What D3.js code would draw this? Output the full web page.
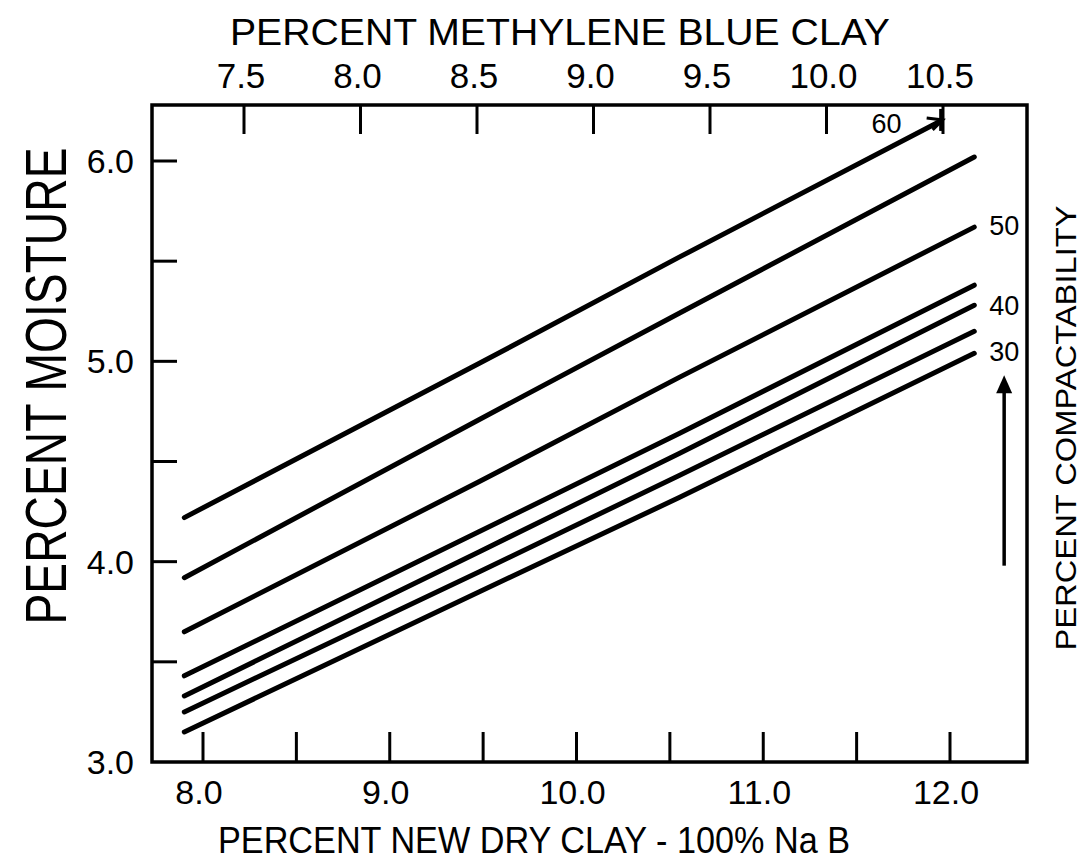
<!DOCTYPE html>
<html>
<head>
  <title>Percent Moisture vs Clay</title>
  <script src="https://d3js.org/d3.v7.min.js"></script>
  <style>
    body { margin: 0; background: #fff; }
    svg { font-family: "Liberation Sans", Arial, sans-serif; }
    .frame { fill: none; stroke: #000; stroke-width: 3.5; }
    .tick-line { stroke: #000; stroke-width: 3; }
    .curve { fill: none; stroke: #000; stroke-width: 5; stroke-linecap: round; stroke-linejoin: round; }
  </style>
</head>
<body>
  <div id="chart"></div>
  <script>
    // compactability levels, top to bottom
    const seriesNames = ["60", "55", "50", "45", "40", "35", "30"];
    // x = percent new dry clay, y = percent moisture
    const clayX = [7.9, 9.48, 10.55, 12.13];
    const line60 = [4.22, 4.99, 5.52, 6.2];
    const line55 = [3.92, 4.71, 5.24, 6.02];
    const line50 = [3.65, 4.40, 4.92, 5.67];
    const line45 = [3.43, 4.15, 4.64, 5.38];
    const line40 = [3.33, 4.05, 4.54, 5.28];
    const line35 = [3.25, 3.95, 4.43, 5.15];
    const line30 = [3.15, 3.85, 4.32, 5.04];
    const lineEnds60 = [11.95];

    const bottomTicks = [8.0, 8.5, 9.0, 9.5, 10.0, 10.5, 11.0, 11.5, 12.0];
    const bottomLabels = [8.0, 9.0, 10.0, 11.0, 12.0];
    const topTicks = [7.5, 8.0, 8.5, 9.0, 9.5, 10.0, 10.5];
    const leftTicks = [3.5, 4.0, 4.5, 5.0, 5.5, 6.0];
    const leftLabels = [3.0, 4.0, 5.0, 6.0];

    // label positions for the compactability values (data coords)
    const curveLabels = [
      { text: "60", x: 11.66, y: 6.19 },
      { text: "50", x: 12.29, y: 5.68 },
      { text: "40", x: 12.29, y: 5.28 },
      { text: "30", x: 12.29, y: 5.05 }
    ];
    const arrowX = 12.29;
    const arrowY = [3.98, 4.93];

    const W = 1088, H = 868;
    const box = { left: 152, right: 1027, top: 105, bottom: 762 };

    const svg = d3.select("#chart").append("svg")
      .attr("width", W).attr("height", H);

    const x = d3.scaleLinear().domain([8, 12]).range([203, 950]);
    const xTop = d3.scaleLinear().domain([7.5, 10.5]).range([244, 943]);
    const y = d3.scaleLinear().domain([3, 6]).range([762, 161]);

    // frame
    svg.append("rect").attr("class", "frame")
      .attr("x", box.left).attr("y", box.top)
      .attr("width", box.right - box.left).attr("height", box.bottom - box.top);

    // bottom axis ticks (pointing inward)
    svg.selectAll(".bt").data(bottomTicks).enter().append("line")
      .attr("class", "tick-line")
      .attr("x1", d => x(d)).attr("x2", d => x(d))
      .attr("y1", box.bottom).attr("y2", box.bottom - 30);
    svg.selectAll(".bl").data(bottomLabels).enter().append("text")
      .attr("x", d => x(d) - 4).attr("y", 804)
      .attr("text-anchor", "middle").style("font-size", "34px")
      .text(d => d.toFixed(1));

    // top axis
    svg.selectAll(".tt").data(topTicks).enter().append("line")
      .attr("class", "tick-line")
      .attr("x1", d => xTop(d)).attr("x2", d => xTop(d))
      .attr("y1", box.top).attr("y2", box.top + 29);
    svg.selectAll(".tl").data(topTicks).enter().append("text")
      .attr("x", d => xTop(d) - 3).attr("y", 88)
      .attr("text-anchor", "middle").style("font-size", "35px")
      .text(d => d.toFixed(1));

    // left axis
    svg.selectAll(".lt").data(leftTicks).enter().append("line")
      .attr("class", "tick-line")
      .attr("x1", box.left).attr("x2", box.left + 25)
      .attr("y1", d => y(d)).attr("y2", d => y(d));
    svg.selectAll(".ll").data(leftLabels).enter().append("text")
      .attr("x", 134).attr("y", d => y(d) + 12)
      .attr("text-anchor", "end").style("font-size", "34px")
      .text(d => d.toFixed(1));

    // axis titles
    svg.append("text")
      .attr("x", 560).attr("y", 45)
      .attr("text-anchor", "middle").style("font-size", "37px")
      .attr("textLength", 660).attr("lengthAdjust", "spacingAndGlyphs")
      .text("PERCENT METHYLENE  BLUE  CLAY");

    svg.append("text")
      .attr("x", 534).attr("y", 853)
      .attr("text-anchor", "middle").style("font-size", "37px")
      .attr("textLength", 632).attr("lengthAdjust", "spacingAndGlyphs")
      .text("PERCENT  NEW DRY  CLAY - 100%  Na B");

    svg.append("text")
      .attr("transform", "translate(66,386) rotate(-90)")
      .attr("text-anchor", "middle").style("font-size", "58px")
      .attr("textLength", 477).attr("lengthAdjust", "spacingAndGlyphs")
      .text("PERCENT MOISTURE");

    svg.append("text")
      .attr("transform", "translate(1076,428) rotate(-90)")
      .attr("text-anchor", "middle").style("font-size", "29px")
      .attr("textLength", 445).attr("lengthAdjust", "spacingAndGlyphs")
      .text("PERCENT COMPACTABILITY");

    // curves
    const allLines = [line60, line55, line50, line45, line40, line35, line30];
    const series = seriesNames.map((name, i) => ({
      name: name,
      pts: clayX.map((cx, j) => [j === clayX.length - 1 && i === 0 ? lineEnds60[0] : cx, allLines[i][j]])
    }));

    const lineGen = d3.line().x(d => x(d[0])).y(d => y(d[1]));

    svg.selectAll(".curve").data(series).enter().append("path")
      .attr("class", "curve")
      .attr("d", d => lineGen(d.pts));

    // arrow head at end of the 60 line
    const p60 = series[0].pts;
    const ex = x(p60[p60.length - 1][0]), ey = y(p60[p60.length - 1][1]);
    svg.append("line").attr("class", "tick-line")
      .attr("x1", ex).attr("x2", ex).attr("y1", ey - 12).attr("y2", ey + 10);
    svg.append("path")
      .attr("d", `M${ex - 14},${ey - 3} L${ex + 2},${ey - 1} L${ex - 8},${ey + 9}`)
      .attr("fill", "none").attr("stroke", "#000").attr("stroke-width", 3);

    // curve labels
    svg.selectAll(".cl").data(curveLabels).enter().append("text")
      .attr("x", d => x(d.x)).attr("y", d => y(d.y) + 10)
      .attr("text-anchor", "middle").style("font-size", "27px")
      .text(d => d.text);

    // upward arrow
    const ax = x(arrowX);
    svg.append("line")
      .attr("x1", ax).attr("x2", ax)
      .attr("y1", y(arrowY[0])).attr("y2", y(arrowY[1]) + 14)
      .attr("stroke", "#000").attr("stroke-width", 3.5);
    svg.append("path")
      .attr("d", `M${ax},${y(arrowY[1])} L${ax - 8},${y(arrowY[1]) + 18} L${ax + 8},${y(arrowY[1]) + 18} Z`)
      .attr("fill", "#000");
  </script>
</body>
</html>
